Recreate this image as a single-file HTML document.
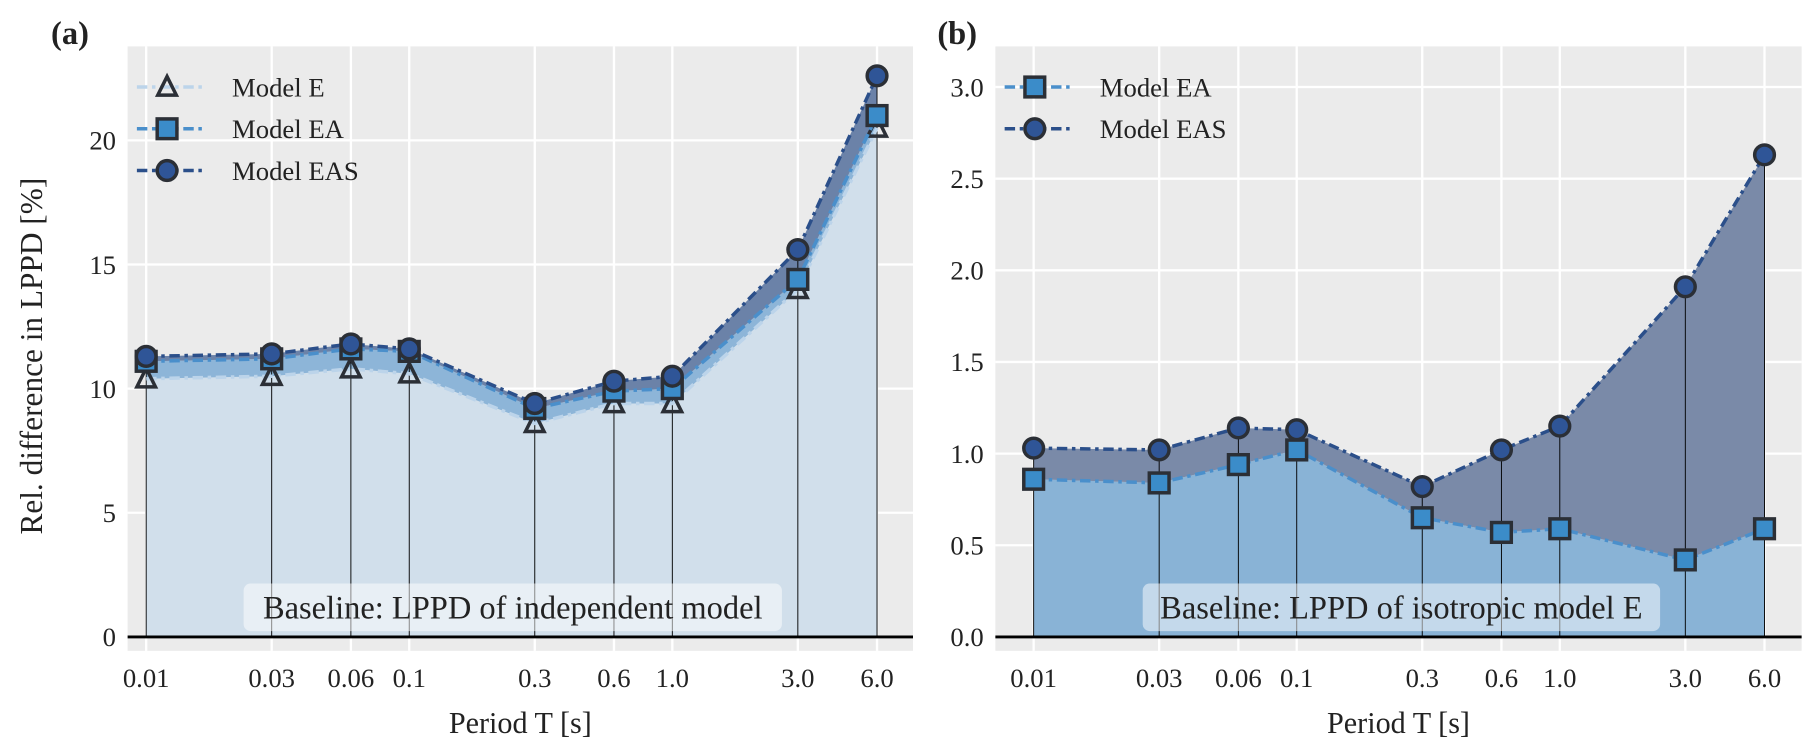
<!DOCTYPE html>
<html><head><meta charset="utf-8"><style>
body{margin:0;background:#fff;}
svg{display:block;font-family:"Liberation Serif",serif;}
</style></head><body>
<svg id="chart" width="1819" height="756" viewBox="0 0 1819 756" xmlns="http://www.w3.org/2000/svg"><g id="root" transform="scale(1.1601)"></g></svg>
<script>
const periods=[0.01,0.03,0.06,0.1,0.3,0.6,1.0,3.0,6.0];
const periodLabels=["0.01","0.03","0.06","0.1","0.3","0.6","1.0","3.0","6.0"];
const aModelE=[10.4,10.5,10.8,10.6,8.6,9.4,9.4,14.0,20.5];
const aModelEA=[11.1,11.2,11.6,11.5,9.2,9.9,10.0,14.4,21.0];
const aModelEAS=[11.3,11.4,11.8,11.6,9.4,10.3,10.5,15.6,22.6];
const bModelEA=[0.86,0.84,0.94,1.02,0.65,0.57,0.59,0.42,0.59];
const bModelEAS=[1.03,1.02,1.14,1.13,0.82,1.02,1.15,1.91,2.63];
const aTicks=[0,5,10,15,20];
const aTickLabels=["0","5","10","15","20"];
const bTicks=[0,0.5,1.0,1.5,2.0,2.5,3.0];
const bTickLabels=["0.0","0.5","1.0","1.5","2.0","2.5","3.0"];

const NS="http://www.w3.org/2000/svg";
const svg=document.getElementById('root');
function mk(tag,attrs,parent,text){const e=document.createElementNS(NS,tag);for(const k in attrs)e.setAttribute(k,attrs[k]);if(text!==undefined)e.textContent=text;(parent||svg).appendChild(e);return e;}

function panel(cfg){
  const g=mk('g',{});
  
  
  const L=cfg.left,R=cfg.right,T=40,B=561;
  const xs=v=>cfg.x0+(Math.log10(v)+2)*(cfg.x1-cfg.x0)/(Math.log10(6)+2);
  const ys=v=>cfg.y0-v*cfg.ppu;
  const bg=mk('rect',{x:L,y:T,width:R-L,height:B-T,fill:'#ebebeb'},g);
  
  
  cfg.ticks.forEach((t,i)=>{
    mk('line',{x1:L,x2:R,y1:ys(t),y2:ys(t),stroke:'#fff','stroke-width':2},g);
    const tl=mk('text',{x:L-10,y:ys(t)+8,'text-anchor':'end','font-size':23,fill:'#222'},g,cfg.tickLabels[i]);
    
    
  });
  periods.forEach((p,i)=>{
    mk('line',{x1:xs(p),x2:xs(p),y1:T,y2:B,stroke:'#fff','stroke-width':2},g);
    const tl=mk('text',{x:xs(p),y:592,'text-anchor':'middle','font-size':23,fill:'#222'},g,periodLabels[i]);
    
    
  });
  const pts=arr=>arr.map((v,i)=>xs(periods[i])+','+ys(v));
  const area=(lo,hi,fill,nm)=>{
    const lower=lo?pts(lo):periods.map(p=>xs(p)+','+ys(0));
    const p=mk('polygon',{points:pts(hi).concat(lower.slice().reverse()).join(' '),fill:fill},g);
    
    
  };
  cfg.fills.forEach(f=>area(f[0],f[1],f[2],f[3]));
  const top=cfg.series[cfg.series.length-1].data;
  periods.forEach((p,i)=>{
    const l=mk('line',{x1:xs(p),x2:xs(p),y1:ys(0),y2:ys(top[i]),stroke:'#000','stroke-width':0.8},g);
    
    
  });
  mk('line',{x1:L,x2:R,y1:ys(0),y2:ys(0),stroke:'#000','stroke-width':2.5},g);
  cfg.series.forEach(s=>{
    mk('polyline',{points:pts(s.data).join(' '),fill:'none',stroke:s.color,'stroke-width':3,'stroke-dasharray':'9,4,3,4'},g);
    s.data.forEach((v,i)=>{const m=marker(g,s.shape,xs(periods[i]),ys(v),s.face);});
  });
  const bx=cfg.boxX,bw=cfg.boxW;
  mk('rect',{x:bx,y:503,width:bw,height:41,rx:6,fill:'#fff','fill-opacity':0.5},g);
  const bt=mk('text',{x:bx+bw/2,y:533,'text-anchor':'middle','font-size':28,fill:'#222'},g,cfg.boxText);
  
  
  const xt=mk('text',{x:(L+R)/2,y:632,'text-anchor':'middle','font-size':26,fill:'#222'},g,'Period T [s]');
  
  
  const pl=mk('text',{x:cfg.labelX,y:38,'font-size':28,'font-weight':'bold',fill:'#222'},g,cfg.label);
  
  
  cfg.series.forEach((s,i)=>{
    const ly=75+i*36, lx=L+8;
    const lg=mk('g',{},g);
    
    
    mk('line',{x1:lx,x2:lx+58,y1:ly,y2:ly,stroke:s.color,'stroke-width':3,'stroke-dasharray':'9,4,3,4'},lg);
    marker(lg,s.shape,lx+26,ly,s.face);
    mk('text',{x:lx+82,y:ly+8,'font-size':23,fill:'#222'},lg,s.label);
  });
}
function marker(g,shape,x,y,face){
  const st={fill:face,stroke:'#2b2f36','stroke-width':3};
  if(shape==='tri'){return mk('polygon',Object.assign({points:`${x},${y-9} ${x-8},${y+7} ${x+8},${y+7}`},st,{fill:'none'}),g);}
  if(shape==='sq'){return mk('rect',Object.assign({x:x-8.5,y:y-8.5,width:17,height:17},st),g);}
  return mk('circle',Object.assign({cx:x,cy:y,r:8.5},st),g);
}
panel({name:'panel-a',left:110,right:787,x0:126,x1:756,y0:549,ppu:21.4,ticks:aTicks,tickLabels:aTickLabels,label:'(a)',labelX:44,
  boxText:'Baseline: LPPD of independent model',boxX:210,boxW:464,
  fills:[[null,aModelE,'#d1dfeb','fill-model-e'],[aModelE,aModelEA,'#8db5d8','fill-model-ea'],[aModelEA,aModelEAS,'#6b82a8','fill-model-eas']],
  series:[{key:'model-e',label:'Model E',data:aModelE,color:'#bcd4ea',shape:'tri',face:'none'},
          {key:'model-ea',label:'Model EA',data:aModelEA,color:'#4a8fcb',shape:'sq',face:'#3b8cc9'},
          {key:'model-eas',label:'Model EAS',data:aModelEAS,color:'#2b4f8a',shape:'ci',face:'#2f5597'}]});
panel({name:'panel-b',left:858,right:1553,x0:891,x1:1521,y0:549,ppu:158,ticks:bTicks,tickLabels:bTickLabels,label:'(b)',labelX:808,
  boxText:'Baseline: LPPD of isotropic model E',boxX:985,boxW:446,
  fills:[[null,bModelEA,'#89b3d6','fill-model-ea'],[bModelEA,bModelEAS,'#7a8aa8','fill-model-eas']],
  series:[{key:'model-ea',label:'Model EA',data:bModelEA,color:'#4a8fcb',shape:'sq',face:'#3b8cc9'},
          {key:'model-eas',label:'Model EAS',data:bModelEAS,color:'#2b4f8a',shape:'ci',face:'#2f5597'}]});
const yt=mk('text',{x:0,y:0,'text-anchor':'middle','font-size':27,fill:'#222',transform:'translate(36,307) rotate(-90)'},svg,'Rel. difference in LPPD [%]');


</script>
</body></html>
